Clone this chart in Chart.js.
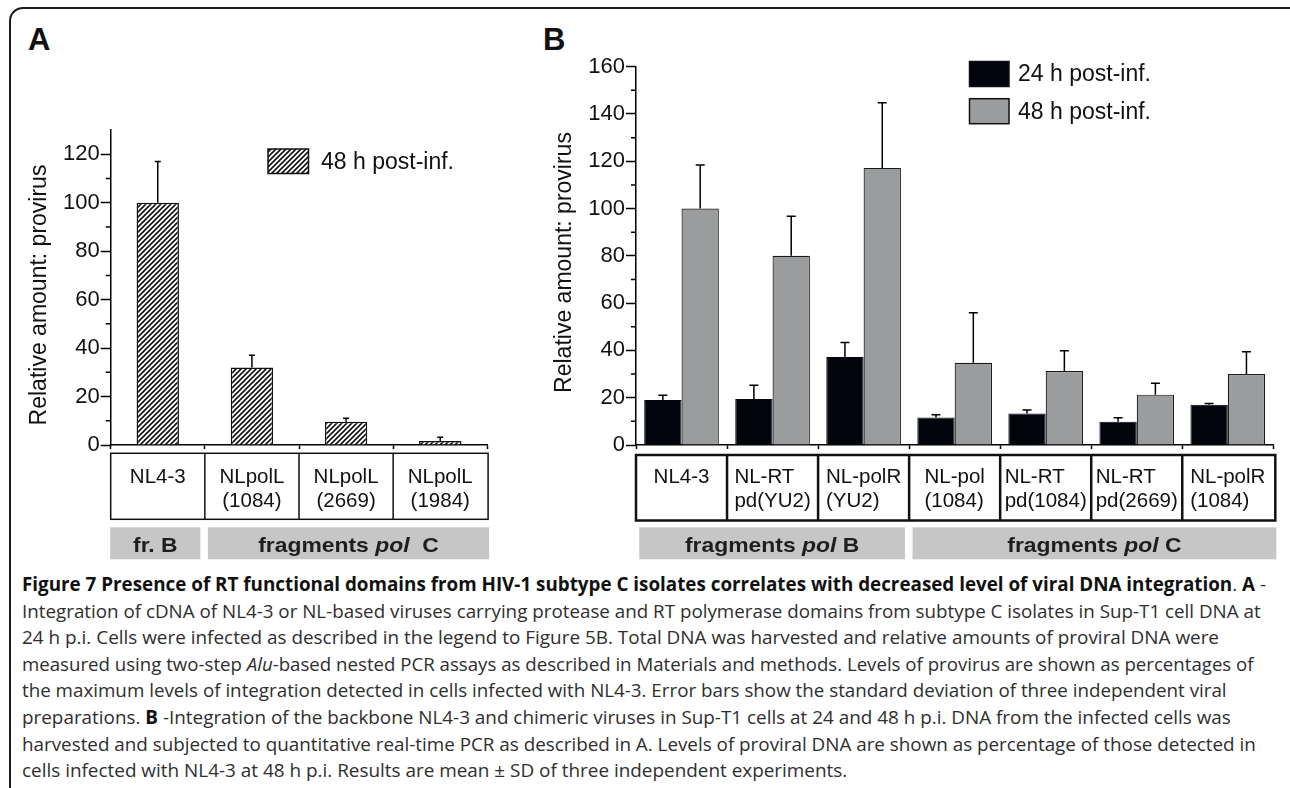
<!DOCTYPE html>
<html><head><meta charset="utf-8">
<script src="https://cdn.jsdelivr.net/npm/chart.js@4.4.1/dist/chart.umd.min.js"></script>
<style>
html,body{margin:0;padding:0;background:#fff;}
body{width:1290px;height:788px;position:relative;overflow:hidden;}
#frame{position:absolute;left:9px;top:7px;width:1300px;height:800px;border-left:2px solid #1c1c1c;border-top:2px solid #1c1c1c;border-top-left-radius:14px;}
.lbl{position:absolute;font-family:"Liberation Sans",Arial,sans-serif;font-weight:bold;font-size:31px;color:#111;line-height:31px;}
#cA{position:absolute;left:0;top:0;}
#cB{position:absolute;left:500px;top:0;}
#cap{position:absolute;left:22px;top:571px;font-family:"Open Sans",sans-serif;font-size:19px;line-height:26.6px;color:#2e2e2e;white-space:nowrap;}
#cap span.l{display:inline-block;transform-origin:0 0;}
#cap b{font-weight:bold;color:#111;}
</style></head>
<body>
<div id="frame"></div>
<div class="lbl" style="left:28px;top:24px;">A</div>
<div class="lbl" style="left:543px;top:24px;">B</div>
<canvas id="cA" width="500" height="570"></canvas>
<canvas id="cB" width="790" height="570"></canvas>
<div id="cap">
<div><span class="l"><b>Figure 7 Presence of RT functional domains from HIV-1 subtype C isolates correlates with decreased level of viral DNA integration</b>. <b>A</b> -</span></div>
<div><span class="l">Integration of cDNA of NL4-3 or NL-based viruses carrying protease and RT polymerase domains from subtype C isolates in Sup-T1 cell DNA at</span></div>
<div><span class="l">24 h p.i. Cells were infected as described in the legend to Figure 5B. Total DNA was harvested and relative amounts of proviral DNA were</span></div>
<div><span class="l">measured using two-step <i>Alu</i>-based nested PCR assays as described in Materials and methods. Levels of provirus are shown as percentages of</span></div>
<div><span class="l">the maximum levels of integration detected in cells infected with NL4-3. Error bars show the standard deviation of three independent viral</span></div>
<div><span class="l">preparations. <b>B</b> -Integration of the backbone NL4-3 and chimeric viruses in Sup-T1 cells at 24 and 48 h p.i. DNA from the infected cells was</span></div>
<div><span class="l">harvested and subjected to quantitative real-time PCR as described in A. Levels of proviral DNA are shown as percentage of those detected in</span></div>
<div><span class="l">cells infected with NL4-3 at 48 h p.i. Results are mean ± SD of three independent experiments.</span></div>
</div>
<script>
// ---------- Panel A data ----------
const catsA = [['NL4-3'], ['NLpolL', '(1084)'], ['NLpolL', '(2669)'], ['NLpolL', '(1984)']];
const provirusA48 = [100, 32, 9.6, 1.6];
const provirusA48Sd = [17, 5, 1.4, 1.6];
const groupsA = [
  {from: 0, to: 0, parts: [['fr. B', '']]},
  {from: 1, to: 3, parts: [['fragments ', ''], ['pol', 'italic '], ['  C', '']]}
];
const seriesA = ['48 h post-inf.'];

// ---------- Panel B data ----------
const catsB = [['NL4-3'], ['NL-RT', 'pd(YU2)'], ['NL-polR', '(YU2)'], ['NL-pol', '(1084)'], ['NL-RT', 'pd(1084)'], ['NL-RT', 'pd(2669)'], ['NL-polR', '(1084)']];
const provirusB24 = [19, 19.5, 37.2, 11.6, 13.3, 9.8, 17];
const provirusB24Sd = [2, 5.8, 6.2, 1.2, 1.5, 1.7, 0.5];
const provirusB48 = [100, 80, 117.2, 34.8, 31.3, 21.3, 30];
const provirusB48Sd = [18.4, 16.8, 27.5, 21.1, 8.6, 4.8, 9.4];
const groupsB = [
  {from: 0, to: 2, parts: [['fragments ', ''], ['pol', 'italic '], [' B', '']]},
  {from: 3, to: 6, parts: [['fragments ', ''], ['pol', 'italic '], [' C', '']]}
];
const seriesB = ['24 h post-inf.', '48 h post-inf.'];

// caption line widths (layout)
const captionWidths = [1244, 1238.6, 1197, 1231.6, 1204.6, 1208.8, 1233.7, 825.3];

const FONT = '"Liberation Sans", Arial, Helvetica, sans-serif';

function hatchPattern() {
  const c = document.createElement('canvas');
  c.width = 5; c.height = 5;
  const g = c.getContext('2d');
  g.fillStyle = '#fff'; g.fillRect(0, 0, 5, 5);
  g.strokeStyle = '#111'; g.lineWidth = 1.6;
  g.beginPath();
  g.moveTo(-1, 6); g.lineTo(6, -1);
  g.moveTo(-1, 1); g.lineTo(1, -1);
  g.moveTo(4, 6); g.lineTo(6, 4);
  g.stroke();
  return g.createPattern(c, 'repeat');
}

const minorTicks = {
  id: 'minorTicks',
  afterDraw(chart, args, o) {
    const ys = chart.scales.y, ctx = chart.ctx;
    ctx.save(); ctx.strokeStyle = '#000'; ctx.lineWidth = 1.5; ctx.beginPath();
    for (let v = o.offset; v < ys.max; v += o.step) {
      const py = ys.getPixelForValue(v);
      ctx.moveTo(ys.right - o.len, py); ctx.lineTo(ys.right, py);
    }
    ctx.stroke(); ctx.restore();
  }
};

const errorBars = {
  id: 'errorBars',
  afterDatasetsDraw(chart, args, o) {
    const ctx = chart.ctx, ys = chart.scales.y;
    ctx.save(); ctx.strokeStyle = '#000'; ctx.lineWidth = 1.5; ctx.beginPath();
    chart.data.datasets.forEach((ds, i) => {
      if (!ds.errors) return;
      chart.getDatasetMeta(i).data.forEach((el, j) => {
        const top = ys.getPixelForValue(ds.data[j] + ds.errors[j]);
        ctx.moveTo(el.x, el.y); ctx.lineTo(el.x, top);
        ctx.moveTo(el.x - o.cap, top); ctx.lineTo(el.x + o.cap, top);
      });
    });
    ctx.stroke(); ctx.restore();
  }
};

const yTitle = {
  id: 'yTitle',
  afterDraw(chart, args, o) {
    const ctx = chart.ctx;
    ctx.save();
    ctx.translate(o.x, o.y); ctx.rotate(-Math.PI / 2);
    ctx.font = '23px ' + FONT; ctx.fillStyle = '#111';
    ctx.textAlign = 'center'; ctx.textBaseline = 'middle';
    ctx.fillText(o.text, 0, 0);
    ctx.restore();
  }
};

const legendBox = {
  id: 'legendBox',
  afterDraw(chart, args, o) {
    const ctx = chart.ctx;
    ctx.save();
    chart.data.datasets.forEach((ds, i) => {
      const y = o.y + i * o.dy;
      ctx.fillStyle = ds.backgroundColor;
      ctx.fillRect(o.x, y, o.w, o.h);
      ctx.strokeStyle = '#111'; ctx.lineWidth = 1.5;
      ctx.strokeRect(o.x, y, o.w, o.h);
      ctx.fillStyle = '#111'; ctx.font = '23px ' + FONT;
      ctx.textAlign = 'left'; ctx.textBaseline = 'middle';
      ctx.fillText(ds.label, o.x + o.w + o.gap, y + o.h / 2 + 1);
    });
    ctx.restore();
  }
};

const tableAxis = {
  id: 'tableAxis',
  afterDraw(chart, args, o) {
    const ctx = chart.ctx, xs = chart.scales.x;
    const labels = chart.data.labels, n = labels.length;
    const cw = (xs.right - xs.left) / n;
    const b = i => (i < n ? xs.getPixelForValue(i) - cw / 2 : xs.getPixelForValue(n - 1) + cw / 2);
    ctx.save();
    // table
    ctx.strokeStyle = '#111'; ctx.lineWidth = o.lw;
    const L = b(0), R = b(n) + o.rightExt;
    ctx.strokeRect(L, o.top, R - L, o.h);
    ctx.beginPath();
    for (let i = 1; i < n; i++) { ctx.moveTo(b(i), o.top); ctx.lineTo(b(i), o.top + o.h); }
    ctx.stroke();
    ctx.fillStyle = '#111'; ctx.font = o.fontSize + 'px ' + FONT; ctx.textBaseline = 'alphabetic';
    labels.forEach((lab, i) => {
      const cx = (b(i) + b(i + 1)) / 2;
      if (o.align === 'center') {
        ctx.textAlign = 'center';
        lab.forEach((t, k) => ctx.fillText(t, cx, o.top + o.base[k]));
      } else {
        const W = Math.max(...lab.map(t => ctx.measureText(t).width));
        ctx.textAlign = 'left';
        lab.forEach((t, k) => ctx.fillText(t, cx - W / 2, o.top + o.base[k]));
      }
    });
    // group bars
    o.groups.forEach(g => {
      const x0 = b(g.from) + (g.from === 0 ? o.firstInset : o.gapL);
      const x1 = b(g.to + 1) + (g.to === n - 1 ? o.rightExt + 1 : -o.gapR);
      ctx.fillStyle = '#c6c6c6';
      ctx.fillRect(x0, o.gTop, x1 - x0, o.gH);
      let w = 0;
      g.parts.forEach(p => { ctx.font = p[1] + 'bold ' + o.gSize + 'px ' + FONT; w += ctx.measureText(p[0]).width; });
      ctx.save();
      ctx.translate((x0 + x1) / 2, o.gBase); ctx.scale(o.gScale, 1);
      ctx.fillStyle = '#1e1e1e'; ctx.textAlign = 'left';
      let x = -w / 2;
      g.parts.forEach(p => {
        ctx.font = p[1] + 'bold ' + o.gSize + 'px ' + FONT;
        ctx.fillText(p[0], x, 0);
        x += ctx.measureText(p[0]).width;
      });
      ctx.restore();
    });
    ctx.restore();
  }
};

function yScale(max, width) {
  return {
    min: 0, max: max,
    ticks: {stepSize: 20, includeBounds: false, padding: 1, color: '#111', font: {family: FONT, size: 22}},
    grid: {drawOnChartArea: false, tickLength: 10, tickColor: '#000', tickWidth: 1.5, color: '#000'},
    border: {display: true, color: '#000', width: 1.5},
    afterFit: s => { s.width = width; }
  };
}
function xScale(height) {
  return {
    ticks: {display: false},
    grid: {drawOnChartArea: false, offset: true, tickLength: 4, tickColor: '#000', tickWidth: 1.5, color: '#000'},
    border: {display: true, color: '#000', width: 1.5},
    afterFit: s => { s.height = height; }
  };
}

const hatch = hatchPattern();

new Chart(document.getElementById('cA'), {
  type: 'bar',
  data: {
    labels: catsA,
    datasets: [{label: seriesA[0], data: provirusA48, errors: provirusA48Sd, backgroundColor: hatch,
      borderColor: '#111', borderWidth: 1.5, categoryPercentage: 0.45, barPercentage: 1}]
  },
  options: {
    responsive: false, animation: false, devicePixelRatio: 1,
    layout: {padding: {top: 130, right: 12.7, left: 0, bottom: 0}},
    plugins: {
      legend: {display: false}, tooltip: {enabled: false},
      yTitle: {text: 'Relative amount: provirus', x: 40, y: 295},
      legendBox: {x: 268, y: 149, w: 40.5, h: 24.5, dy: 0, gap: 12.5},
      minorTicks: {offset: 10, step: 20, len: 5},
      errorBars: {cap: 3},
      tableAxis: {top: 453.3, h: 66, lw: 1.5, rightExt: 0.8, align: 'center', fontSize: 20.5, base: [30, 53.4],
        groups: groupsA, firstInset: -0.5, gapL: 3, gapR: 4.5, gTop: 527.3, gH: 32, gBase: 551.5, gSize: 21, gScale: 1.09}
    },
    scales: {x: xScale(125), y: yScale(130, 110.7)}
  },
  plugins: [minorTicks, errorBars, yTitle, legendBox, tableAxis]
});

new Chart(document.getElementById('cB'), {
  type: 'bar',
  data: {
    labels: catsB,
    datasets: [
      {label: seriesB[0], data: provirusB24, errors: provirusB24Sd, backgroundColor: '#03050d',
        borderColor: '#03050d', borderWidth: 1, categoryPercentage: 0.82, barPercentage: 1},
      {label: seriesB[1], data: provirusB48, errors: provirusB48Sd, backgroundColor: '#9a9c9d',
        borderColor: '#1a1a1a', borderWidth: 1.2, categoryPercentage: 0.82, barPercentage: 1}
    ]
  },
  options: {
    responsive: false, animation: false, devicePixelRatio: 1,
    layout: {padding: {top: 66.7, right: 16.7, left: 0, bottom: 0}},
    plugins: {
      legend: {display: false}, tooltip: {enabled: false},
      yTitle: {text: 'Relative amount: provirus', x: 65, y: 262.5},
      legendBox: {x: 469.5, y: 61.5, w: 39.5, h: 25, dy: 37.2, gap: 9},
      minorTicks: {offset: 10, step: 20, len: 5},
      errorBars: {cap: 4.5},
      tableAxis: {top: 455, h: 65.5, lw: 2.5, rightExt: 2, align: 'block', fontSize: 20.5, base: [28, 51.5],
        groups: groupsB, firstInset: 3.3, gapL: 3.4, gapR: 4.2, gTop: 527.3, gH: 32, gBase: 551.5, gSize: 21, gScale: 1.09}
    },
    scales: {x: xScale(125), y: yScale(160, 136)}
  },
  plugins: [minorTicks, errorBars, yTitle, legendBox, tableAxis]
});

// fit caption lines to the reference line lengths
document.querySelectorAll('#cap span.l').forEach((s, i) => {
  const w = s.getBoundingClientRect().width;
  if (w > 0) s.style.transform = 'scaleX(' + (captionWidths[i] / w) + ')';
});
</script>
</body></html>
